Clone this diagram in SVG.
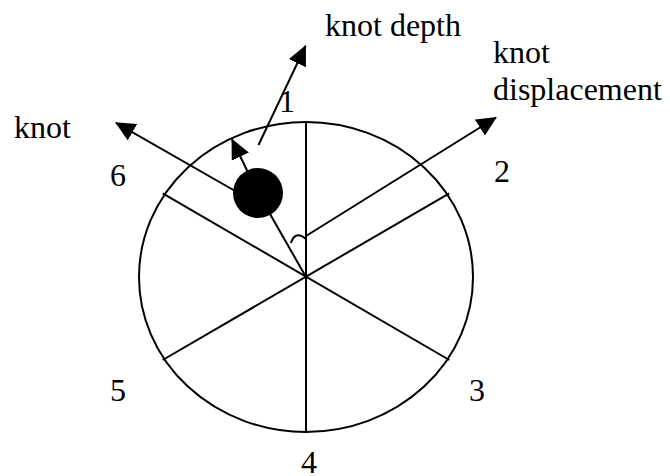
<svg xmlns="http://www.w3.org/2000/svg" width="670" height="476" viewBox="0 0 670 476">
<style>
.ln{stroke:#000;stroke-width:2;fill:none}
.arr{stroke:#000;stroke-width:2;fill:none;marker-end:url(#ah)}
text{font-family:"Liberation Serif","Times New Roman",serif;font-size:32px;fill:#000}
</style>
<defs>
<marker id="ah" viewBox="0 0 20 19" refX="19" refY="9.5" markerWidth="20" markerHeight="19" markerUnits="userSpaceOnUse" orient="auto">
<path d="M0,0 L20,9.5 L0,19 z" fill="#000"/>
</marker>
</defs>
<rect width="670" height="476" fill="#fff"/>
<g id="log">
<ellipse class="ln" cx="306" cy="277" rx="167" ry="155"/>
<line class="ln" x1="306" y1="122" x2="306" y2="432"/>
<line class="ln" x1="162.7" y1="193.3" x2="449.3" y2="360"/>
<line class="ln" x1="162.7" y1="360" x2="449.3" y2="193.3"/>
</g>
<g id="connectors">
<line class="ln" x1="306" y1="277" x2="258" y2="193"/>
<line class="arr" x1="306" y1="236" x2="496" y2="117.5"/>
<line class="arr" x1="250" y1="199.5" x2="116" y2="122.8"/>
<line class="arr" x1="258" y1="193" x2="232" y2="139.5"/>
<line class="arr" x1="258.5" y1="145" x2="305.5" y2="46"/>
<path class="ln" d="M291,243 Q295,230 306,239"/>
</g>
<g id="knot">
<circle cx="258" cy="193" r="25" fill="#000"/>
</g>
<g id="labels">
<text x="325" y="36">knot depth</text>
<text x="493" y="63">knot</text>
<text x="493" y="100">displacement</text>
<text x="14" y="138">knot</text>
<text x="279" y="112">1</text>
<text x="494" y="182">2</text>
<text x="469" y="401">3</text>
<text x="301" y="473">4</text>
<text x="110" y="401">5</text>
<text x="110" y="186">6</text>
</g>
</svg>
